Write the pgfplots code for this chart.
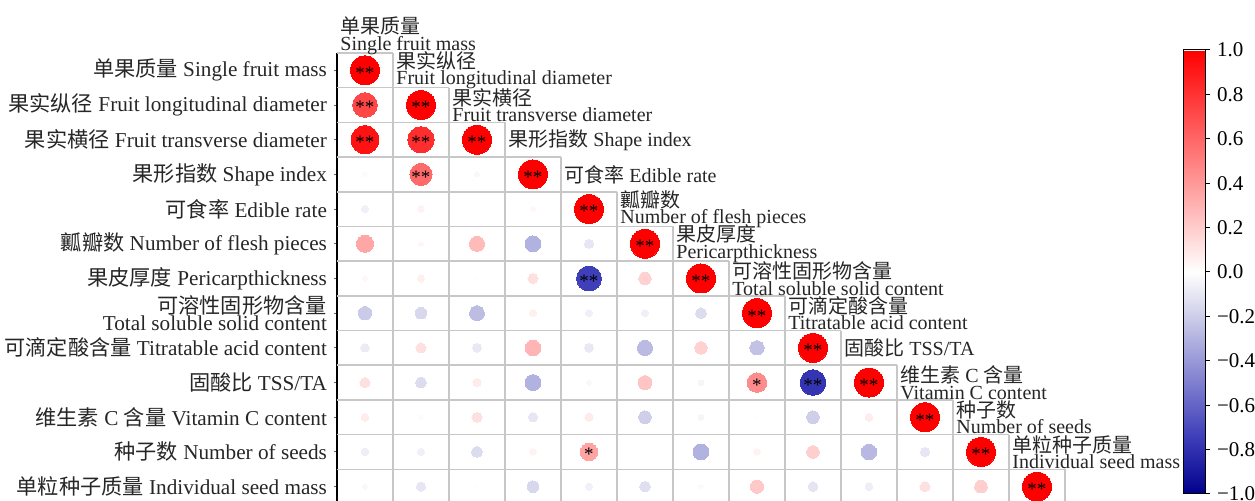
\documentclass[border=0pt]{standalone}
\usepackage{pgfplots}
\pgfplotsset{compat=1.18}
\usepackage{pgfplotstable}
\usepackage{fontspec}
\setmainfont{Liberation Serif}
\newfontfamily\cjk{Noto Sans CJK SC}

% Pearson correlation matrix (lower triangle, row = trait i, col = trait j)
\pgfplotstableread{
col row r
1 1 1
1 2 0.72
2 2 1
1 3 0.93
2 3 0.82
3 3 1
1 4 0.02
2 4 0.58
3 4 -0.03
4 4 1
1 5 -0.06
2 5 0.05
3 5 0.00
4 5 0.03
5 5 1
1 6 0.35
2 6 0.03
3 6 0.27
4 6 -0.30
5 6 -0.10
6 6 1
1 7 0.03
2 7 0.06
3 7 0.01
4 7 0.12
5 7 -0.74
6 7 0.18
7 7 1
1 8 -0.21
2 8 -0.16
3 8 -0.26
4 8 0.06
5 8 -0.06
6 8 -0.06
7 8 -0.14
8 8 1
1 9 -0.08
2 9 0.12
3 9 -0.09
4 9 0.29
5 9 -0.09
6 9 -0.27
7 9 0.18
8 9 -0.24
9 9 1
1 10 0.12
2 10 -0.14
3 10 0.08
4 10 -0.30
5 10 -0.03
6 10 0.23
7 10 -0.04
8 10 0.45
9 10 -0.78
10 10 1
1 11 0.07
2 11 0.02
3 11 0.12
4 11 -0.10
5 11 0.08
6 11 -0.19
7 11 -0.04
8 11 0.01
9 11 -0.19
10 11 0.07
11 11 1
1 12 -0.07
2 12 -0.06
3 12 -0.14
4 12 0.05
5 12 0.36
6 12 0.00
7 12 -0.30
8 12 0.05
9 12 0.19
10 12 -0.28
11 12 -0.10
12 12 1
1 13 -0.03
2 13 -0.10
3 13 -0.01
4 13 -0.16
5 13 -0.06
6 13 -0.13
7 13 -0.02
8 13 0.21
9 13 -0.11
10 13 -0.07
11 13 0.12
12 13 0.19
13 13 1
}\corr

% significance marks (* P<0.05, ** P<0.01)
\pgfplotstableread{
col row s
1 1 **
2 2 **
3 3 **
4 4 **
5 5 **
6 6 **
7 7 **
8 8 **
9 9 **
10 10 **
11 11 **
12 12 **
13 13 **
1 2 **
1 3 **
2 3 **
2 4 **
5 7 **
9 10 **
8 10 *
5 12 *
}\sig

\tikzset{
  gridline/.style={draw=black!22, line width=0.75pt},
  diag/.style={anchor=west, align=left, inner sep=1.5pt,
    font=\fontsize{10}{8.2}\selectfont, text=black!85},
}

\begin{document}
\begin{tikzpicture}
\useasboundingbox (-168.5pt,-224pt) rectangle (459pt,26.5pt);
\begin{axis}[
  at={(0,0)}, anchor=north west,
  scale only axis, width=364pt, height=225.5pt,
  xmin=0.5, xmax=13.5, ymin=0.5, ymax=13.5, y dir=reverse,
  axis x line=none, axis y line*=left,
  y axis line style={-, line width=1pt, black},
  ytick={1,...,13},
  yticklabels={
    {{\cjk 单果质量} Single fruit mass},
    {{\cjk 果实纵径} Fruit longitudinal diameter},
    {{\cjk 果实横径} Fruit transverse diameter},
    {{\cjk 果形指数} Shape index},
    {{\cjk 可食率} Edible rate},
    {{\cjk 瓤瓣数} Number of flesh pieces},
    {{\cjk 果皮厚度} Pericarpthickness},
    {{\cjk 可溶性固形物含量}\\Total soluble solid content},
    {{\cjk 可滴定酸含量} Titratable acid content},
    {{\cjk 固酸比} TSS/TA},
    {{\cjk 维生素} C {\cjk 含量} Vitamin C content},
    {{\cjk 种子数} Number of seeds},
    {{\cjk 单粒种子质量} Individual seed mass}},
  yticklabel style={align=right, font=\fontsize{10.6}{8.5}\selectfont, text=black!85},
  tick align=outside, major tick length=1.5pt,
  ytick style={black!60, line width=0.5pt},
  clip=false,
  colormap={rb}{rgb255(0cm)=(0,0,140); rgb255(1cm)=(60,60,185);
    rgb255(3.4cm)=(218,218,238); rgb255(4cm)=(255,255,255); rgb255(8cm)=(255,0,0)},
  point meta min=-1, point meta max=1,
  colorbar,
  colorbar style={
    at={(parent axis.north east)}, anchor=north west,
    xshift=50.5pt, yshift=1.5pt,
    scale only axis, width=11pt, height=222pt,
    y dir=normal, axis lines=box,
    axis line style={black, line width=0.5pt},
    y axis line style={black, line width=0.5pt},
    ytick={-1,-0.8,-0.6,-0.4,-0.2,0,0.2,0.4,0.6,0.8,1},
    yticklabels={−1.0,−0.8,−0.6,−0.4,−0.2,0.0,0.2,0.4,0.6,0.8,1.0},
    ytick pos=right, yticklabel pos=right,
    yticklabel style={align=left, font=\fontsize{10.5}{12}\selectfont, text=black},
    tick align=outside, major tick length=2.5pt,
    ytick style={black, line width=0.5pt},
  },
]
% cell borders of the lower triangle
\pgfplotsinvokeforeach{1,...,13}{
  \draw[gridline] (axis cs:0.5,#1-0.5) -- (axis cs:#1+0.5,#1-0.5);
  \draw[gridline] (axis cs:#1+0.5,#1-0.5) -- (axis cs:#1+0.5,13.5);
}
\draw[gridline] (axis cs:0.5,13.5) -- (axis cs:13.5,13.5);

% circles: area proportional to |r|, colour by r
\addplot[scatter, only marks, mark=*, scatter src=explicit,
  scatter/use mapped color={draw=mapped color, fill=mapped color},
  mark options={line width=0pt},
  visualization depends on={7.25*sqrt(abs(\thisrow{r})) \as \rad},
  scatter/@pre marker code/.append style={/tikz/mark size=\rad},
] table[x=col, y=row, meta=r] {\corr};

% significance stars
\addplot[only marks, mark=none, point meta=explicit symbolic,
  nodes near coords,
  nodes near coords style={anchor=center, inner sep=0pt, yshift=-1.3pt,
    font=\fontsize{9.5}{9.5}\selectfont, text=black},
] table[x=col, y=row, meta=s] {\sig};

% trait names along the diagonal
\node[diag] at (axis cs:0.5,0)  {{\cjk 单果质量}\\Single fruit mass};
\node[diag] at (axis cs:1.5,1)  {{\cjk 果实纵径}\\Fruit longitudinal diameter};
\node[diag] at (axis cs:2.5,2)  {{\cjk 果实横径}\\Fruit transverse diameter};
\node[diag] at (axis cs:3.5,3)  {{\cjk 果形指数} Shape index};
\node[diag] at (axis cs:4.5,4)  {{\cjk 可食率} Edible rate};
\node[diag] at (axis cs:5.5,5)  {{\cjk 瓤瓣数}\\Number of flesh pieces};
\node[diag] at (axis cs:6.5,6)  {{\cjk 果皮厚度}\\Pericarpthickness};
\node[diag] at (axis cs:7.5,7)  {{\cjk 可溶性固形物含量}\\Total soluble solid content};
\node[diag] at (axis cs:8.5,8)  {{\cjk 可滴定酸含量}\\Titratable acid content};
\node[diag] at (axis cs:9.5,9)  {{\cjk 固酸比} TSS/TA};
\node[diag] at (axis cs:10.5,10) {{\cjk 维生素} C {\cjk 含量}\\Vitamin C content};
\node[diag] at (axis cs:11.5,11) {{\cjk 种子数}\\Number of seeds};
\node[diag] at (axis cs:12.5,12) {{\cjk 单粒种子质量}\\Individual seed mass};
\end{axis}
\end{tikzpicture}
\end{document}
